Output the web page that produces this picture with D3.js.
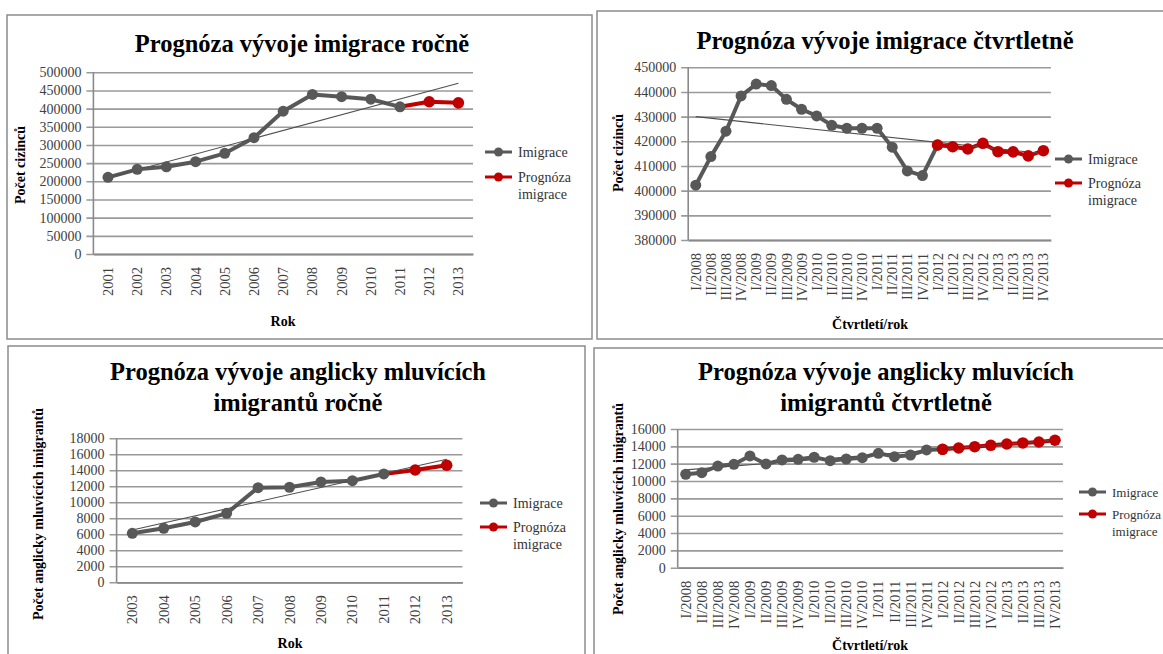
<!DOCTYPE html>
<meta charset="utf-8">
<script src="https://d3js.org/d3.v7.min.js"></script>
<style>
  body { margin: 0; background: #fff; }
  text { font-family: "Liberation Serif", "Times New Roman", serif; }
</style>
<div id="chart"></div>
<script>

// ---- values ----
var yearsA = ["2001", "2002", "2003", "2004", "2005", "2006", "2007", "2008", "2009", "2010", "2011", "2012", "2013"];
var yearsB = ["2003", "2004", "2005", "2006", "2007", "2008", "2009", "2010", "2011", "2012", "2013"];
var quarters = ["I/2008", "II/2008", "III/2008", "IV/2008", "I/2009", "II/2009", "III/2009", "IV/2009",
                "I/2010", "II/2010", "III/2010", "IV/2010", "I/2011", "II/2011", "III/2011", "IV/2011",
                "I/2012", "II/2012", "III/2012", "IV/2012", "I/2013", "II/2013", "III/2013", "IV/2013"];

// immigration per year
var immigYear = [211000, 233000, 240000, 254000, 277000, 320000, 393000, 439000, 433000, 426000, 405000, null, null];
var immigYearFc = [null, null, null, null, null, null, null, null, null, null, null, 419000, 416000];
var immigYearTrend = [210000, 470000];

// immigration per quarter
var immigQ = [402200, 413800, 424100, 438400, 443200, 442600, 437000, 433000,
              430300, 426500, 425300, 425300, 425300, 417600, 408000, 406100,
              418500, null, null, null, null, null, null, null];
var immigQFc = [null, null, null, null, null, null, null, null,
                null, null, null, null, null, null, null, null,
                418500, 417800, 416900, 419200, 415800, 415700, 414100, 416200];
var immigQTrend = [430000, 415000];

// english speaking immigrants per year
var engYear = [6120, 6750, 7540, 8620, 11830, 11880, 12540, 12700, 13540, null, null];
var engYearFc = [null, null, null, null, null, null, null, null, null, 14040, 14630];
var engYearTrend = [6540, 15380];

// english speaking immigrants per quarter
var engQ = [10780, 10960, 11730, 11930, 12890, 11970, 12430, 12500,
            12740, 12350, 12540, 12690, 13200, 12810, 13000, 13580,
            13660, null, null, null, null, null, null, null];
var engQFc = [null, null, null, null, null, null, null, null,
              null, null, null, null, null, null, null, null,
              13660, 13810, 13960, 14120, 14270, 14390, 14500, 14700];
var engQTrend = [11280, 14700];

var yTicksA = d3.range(0, 500001, 50000);
var yTicksB = d3.range(380000, 450001, 10000);
var yTicksC = d3.range(0, 18001, 2000);
var yTicksD = d3.range(0, 16001, 2000);

var legendNames = ["Imigrace", ["Prognóza", "imigrace"]];

var GRAY = "#595959", RED = "#c00000";

var svg = d3.select("#chart").append("svg")
    .attr("width", 1163)
    .attr("height", 654);

var defs = svg.append("defs");
defs.append("filter").attr("id", "soft")
  .append("feGaussianBlur").attr("stdDeviation", 0.6);

var panels = [
  { frame: [7, 15, 585, 324], cats: yearsA, actual: immigYear, fc: immigYearFc, trend: immigYearTrend,
    ticks: yTicksA, plot: [93.4, 473, 72.3, 254],
    title: ["Prognóza vývoje imigrace ročně"], titleX: 302, titleY: 52,
    yTitle: "Počet cizinců", yTitleX: 20, yTitleY: 165,
    xTitle: "Rok", xTitleX: 283, xTitleY: 326,
    legend: [485, 152, 177, 14] },
  { frame: [597, 11, 580, 328], cats: quarters, actual: immigQ, fc: immigQFc, trend: immigQTrend,
    ticks: yTicksB, plot: [688.2, 1050.9, 67.3, 240],
    title: ["Prognóza vývoje imigrace čtvrtletně"], titleX: 885, titleY: 49,
    yTitle: "Počet cizinců", yTitleX: 618, yTitleY: 153,
    xTitle: "Čtvrtletí/rok", xTitleX: 870, xTitleY: 329,
    legend: [1055, 159, 183, 14] },
  { frame: [8, 346, 577, 330], cats: yearsB, actual: engYear, fc: engYearFc, trend: engYearTrend,
    ticks: yTicksC, plot: [116.6, 462.4, 438.3, 582.3],
    title: ["Prognóza vývoje anglicky mluvících", "imigrantů ročně"], titleX: 298, titleY: 380,
    yTitle: "Počet anglicky mluvících imigrantů", yTitleX: 38, yTitleY: 514,
    xTitle: "Rok", xTitleX: 290, xTitleY: 648,
    legend: [480, 503, 527, 14] },
  { frame: [594, 348, 580, 330], cats: quarters, actual: engQ, fc: engQFc, trend: engQTrend,
    ticks: yTicksD, plot: [677.7, 1063, 429, 567.7],
    title: ["Prognóza vývoje anglicky mluvících", "imigrantů čtvrtletně"], titleX: 886, titleY: 380,
    yTitle: "Počet anglicky mluvících imigrantů", yTitleX: 618, yTitleY: 509,
    xTitle: "Čtvrtletí/rok", xTitleX: 870, xTitleY: 650,
    legend: [1079, 492, 514, 13] }
];

panels.forEach(drawPanel);

function drawPanel(p) {
  var g = svg.append("g");
  var left = p.plot[0], right = p.plot[1], top = p.plot[2], bottom = p.plot[3];

  g.append("rect")
    .attr("x", p.frame[0]).attr("y", p.frame[1])
    .attr("width", p.frame[2]).attr("height", p.frame[3])
    .attr("fill", "#fff").attr("stroke", "#8c8c8c").attr("stroke-width", 1.5);

  var x = d3.scaleBand().domain(p.cats).range([left, right]);
  var cx = function(c) { return x(c) + x.bandwidth() / 2; };
  var y = d3.scaleLinear().domain([p.ticks[0], p.ticks[p.ticks.length - 1]]).range([bottom, top]);

  // gridlines + y labels
  var ya = g.append("g")
    .attr("transform", "translate(" + left + ",0)")
    .call(d3.axisLeft(y).tickValues(p.ticks).tickSize(-(right - left)).tickPadding(12).tickFormat(d3.format("d")));
  ya.select(".domain").remove();
  ya.selectAll("line").attr("x1", -7).attr("stroke", "#9a9a9a").attr("stroke-width", 1.6);
  ya.selectAll("text")
    .attr("font-family", "Liberation Serif").attr("font-size", 14).attr("fill", "#404040");

  g.append("line").attr("x1", left).attr("x2", left).attr("y1", top).attr("y2", bottom)
    .attr("stroke", "#8a8a8a").attr("stroke-width", 1.6);

  // category axis
  var xa = g.append("g")
    .attr("transform", "translate(0," + bottom + ")")
    .call(d3.axisBottom(x).tickSize(0));
  xa.select(".domain").attr("stroke", "#8a8a8a").attr("stroke-width", 1.8);
  xa.selectAll("text")
    .attr("font-family", "Liberation Serif").attr("font-size", 14.5).attr("fill", "#404040")
    .attr("transform", "rotate(-90)")
    .attr("x", -13).attr("y", 0).attr("dy", "0.35em")
    .attr("text-anchor", "end");

  // titles
  var t = g.append("text")
    .attr("x", p.titleX).attr("y", p.titleY)
    .attr("text-anchor", "middle").attr("font-size", 24.5).attr("font-weight", "bold").attr("fill", "#000");
  p.title.forEach(function(s, i) {
    t.append("tspan").attr("x", p.titleX).attr("dy", i === 0 ? 0 : 31).text(s);
  });

  g.append("text")
    .attr("transform", "translate(" + p.yTitleX + "," + p.yTitleY + ") rotate(-90)")
    .attr("text-anchor", "middle").attr("dy", "0.35em")
    .attr("font-size", 14).attr("font-weight", "bold").text(p.yTitle);

  g.append("text")
    .attr("x", p.xTitleX).attr("y", p.xTitleY)
    .attr("text-anchor", "middle").attr("font-size", 14).attr("font-weight", "bold").text(p.xTitle);

  // series
  var act = p.cats.map(function(c, i) { return { c: c, v: p.actual[i] }; });
  var fc = p.cats.map(function(c, i) { return { c: c, v: p.fc[i] }; });
  var first = p.fc.findIndex(function(v) { return v != null; });
  var fcLine = fc.filter(function(d) { return d.v != null; });
  if (first > 0 && p.actual[first] == null && p.actual[first - 1] != null) {
    fcLine.unshift(act[first - 1]);
  }

  var line = d3.line()
    .defined(function(d) { return d.v != null; })
    .x(function(d) { return cx(d.c); })
    .y(function(d) { return y(d.v); });

  var marks = g.append("g").attr("filter", "url(#soft)");

  marks.append("path").datum(act)
    .attr("d", line).attr("fill", "none").attr("stroke", GRAY)
    .attr("stroke-width", 4).attr("stroke-linejoin", "round");
  marks.append("path").datum(fcLine)
    .attr("d", line).attr("fill", "none").attr("stroke", RED)
    .attr("stroke-width", 4).attr("stroke-linejoin", "round");

  // linear trend line
  var tr = [{ c: p.cats[0], v: p.trend[0] }, { c: p.cats[p.cats.length - 1], v: p.trend[1] }];
  marks.append("path").datum(tr)
    .attr("d", line).attr("fill", "none").attr("stroke", "#505050").attr("stroke-width", 1.1);

  marks.selectAll(".pa").data(act.filter(function(d) { return d.v != null; }))
    .enter().append("circle")
    .attr("cx", function(d) { return cx(d.c); })
    .attr("cy", function(d) { return y(d.v); })
    .attr("r", 5.5).attr("fill", GRAY);
  marks.selectAll(".pf").data(fc.filter(function(d) { return d.v != null; }))
    .enter().append("circle")
    .attr("cx", function(d) { return cx(d.c); })
    .attr("cy", function(d) { return y(d.v); })
    .attr("r", 5.8).attr("fill", RED);

  // legend
  var lx = p.legend[0], fs = p.legend[3];
  var lg = g.append("g");
  [GRAY, RED].forEach(function(col, i) {
    var ly = p.legend[1 + i];
    lg.append("line").attr("x1", lx).attr("x2", lx + 27).attr("y1", ly).attr("y2", ly)
      .attr("stroke", col).attr("stroke-width", 3);
    lg.append("circle").attr("cx", lx + 13.5).attr("cy", ly).attr("r", 4.5).attr("fill", col);
    var name = legendNames[i];
    var tx = lg.append("text").attr("x", lx + 33).attr("y", ly).attr("dy", "0.35em")
      .attr("font-size", fs).attr("fill", "#333");
    if (typeof name === "string") {
      tx.text(name);
    } else {
      name.forEach(function(s, k) {
        tx.append("tspan").attr("x", lx + 33).attr("dy", k === 0 ? "0.35em" : 17).text(s);
      });
      tx.attr("dy", null);
    }
  });
}

</script>
